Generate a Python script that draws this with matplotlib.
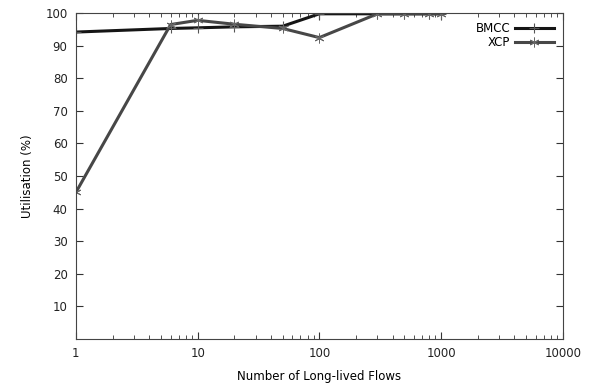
import matplotlib.pyplot as plt
from matplotlib.ticker import FixedLocator, LogLocator, NullFormatter

flows = [1, 6, 10, 20, 50, 100, 300, 500, 800, 1000]
bmcc = [94.2, 95.3, 95.5, 95.8, 96.0, 99.8, 99.8, 99.8, 99.8, 99.8]
xcp = [45.0, 96.5, 97.8, 96.6, 95.3, 92.5, 99.8, 99.8, 99.8, 99.8]

x_ticks = [1, 10, 100, 1000, 10000]
x_labels = ['1', '10', '100', '1000', '10000']
y_ticks = [10, 20, 30, 40, 50, 60, 70, 80, 90, 100]

fig = plt.figure(figsize=(5.93, 3.87), dpi=100)
ax = fig.add_axes([0.128, 0.124, 0.821, 0.842])

ax.plot(flows, bmcc, color='#151515', lw=2.2, marker='+', ms=7, mew=0.8,
        mec='#555555', label='BMCC')
ax.plot(flows, xcp, color='#474747', lw=2.2, marker=(6, 2, 0), ms=7, mew=0.7,
        mec='#666666', label='XCP')

ax.set_xscale('log')
ax.set_xlim(1, 10000)
ax.set_ylim(0, 100)
ax.xaxis.set_major_locator(FixedLocator(x_ticks))
ax.set_xticklabels(x_labels)
ax.xaxis.set_minor_locator(LogLocator(base=10, subs=range(2, 10)))
ax.xaxis.set_minor_formatter(NullFormatter())
ax.set_yticks(y_ticks)

ax.tick_params(which='both', direction='in', top=True, right=True, labelsize=8.5,
               colors='#333333', labelcolor='#222222')
ax.tick_params(which='major', length=5, pad=6)
ax.tick_params(which='minor', length=3)
for s in ax.spines.values():
    s.set_color('#444444')

ax.set_xlabel('Number of Long-lived Flows', fontsize=8.5, labelpad=7)
ax.set_ylabel('Utilisation (%)', fontsize=8.5, labelpad=8)

ax.legend(loc='upper right', frameon=False, markerfirst=False, fontsize=8.5,
          handlelength=3.3, handletextpad=0.4, labelspacing=0.12,
          borderaxespad=0.35)

fig.savefig('out.png', dpi=100)
